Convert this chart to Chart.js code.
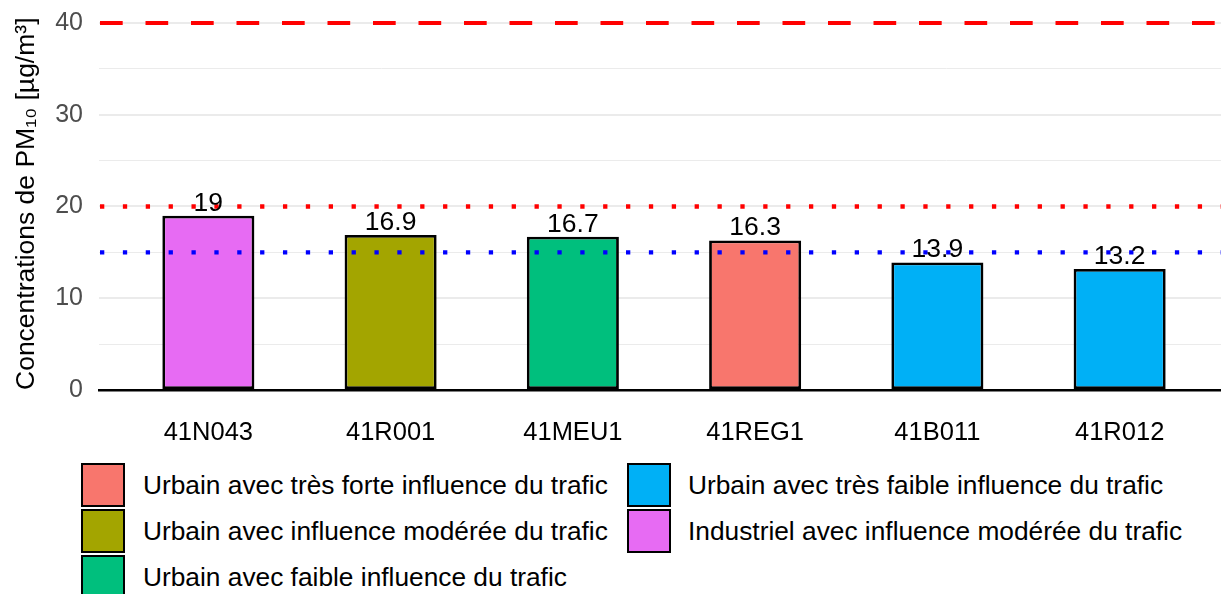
<!DOCTYPE html>
<html>
<head>
<meta charset="utf-8">
<script src="https://cdn.jsdelivr.net/npm/chart.js@4"></script>
<style>
  html, body { margin: 0; padding: 0; background: #fff; overflow: hidden; width: 1221px; height: 594px; }
  #wrap { position: relative; width: 1221px; height: 594px; overflow: hidden; font-family: "Liberation Sans", Arial, sans-serif; }
  #c { position: absolute; left: 0; top: 0; }
  .lg-key { position: absolute; width: 40px; height: 40px; border: 2px solid #000; }
  .lg-txt { position: absolute; font-size: 26.3px; line-height: 44px; color: #000; white-space: nowrap; }
</style>
</head>
<body>
<div id="wrap">
  <canvas id="c" width="1229" height="460"></canvas>
</div>
<script>
// ---- data ----
const stations = ["41N043", "41R001", "41MEU1", "41REG1", "41B011", "41R012"];
const pm10Values = [19, 16.9, 16.7, 16.3, 13.9, 13.2];
const stationTypes = [
  "Industriel avec influence modérée du trafic",
  "Urbain avec influence modérée du trafic",
  "Urbain avec faible influence du trafic",
  "Urbain avec très forte influence du trafic",
  "Urbain avec très faible influence du trafic",
  "Urbain avec très faible influence du trafic"
];
const legendLabels = [
  "Urbain avec très forte influence du trafic",
  "Urbain avec influence modérée du trafic",
  "Urbain avec faible influence du trafic",
  "Urbain avec très faible influence du trafic",
  "Industriel avec influence modérée du trafic"
];
const legendColors = ["#F8766D", "#A3A500", "#00BF7D", "#00B0F6", "#E76BF3"];
const refValues = [40, 20, 15];
const refColors = ["#FF0000", "#FF0000", "#0000FF"];
const refKinds = ["dashed", "dotted", "dotted"];
const yTickValues = [0, 10, 20, 30, 40];

const FONT = '"Liberation Sans", Arial, sans-serif';
const barColors = stationTypes.map(t => legendColors[legendLabels.indexOf(t)]);

const refLinesPlugin = {
  id: 'refLines',
  afterDatasetsDraw(chart) {
    const ctx = chart.ctx, y = chart.scales.y, a = chart.chartArea;
    ctx.save();
    refValues.forEach((v, i) => {
      const py = y.getPixelForValue(v);
      ctx.beginPath();
      ctx.strokeStyle = refColors[i];
      ctx.lineCap = 'butt';
      if (refKinds[i] === 'dashed') { ctx.lineWidth = 4.2; ctx.setLineDash([22.7, 22.8]); }
      else { ctx.lineWidth = 4.3; ctx.setLineDash([4.3, 18.57]); }
      ctx.moveTo(a.left + 1, py);
      ctx.lineTo(a.right, py);
      ctx.stroke();
    });
    ctx.restore();
    // value labels
    const meta = chart.getDatasetMeta(0);
    ctx.save();
    ctx.font = '26.5px ' + FONT;
    ctx.fillStyle = '#000';
    ctx.textAlign = 'center';
    ctx.textBaseline = 'alphabetic';
    meta.data.forEach((bar, i) => {
      ctx.fillText(String(pm10Values[i]), bar.x, bar.y - 5);
    });
    ctx.restore();
  }
};

new Chart(document.getElementById('c'), {
  type: 'bar',
  data: {
    datasets: [{
      data: pm10Values.map((v, i) => ({ x: i, y: v })),
      backgroundColor: barColors,
      borderColor: '#000',
      borderWidth: 2.8,
      borderSkipped: false,
      barPercentage: 0.505,
      categoryPercentage: 1.0
    }]
  },
  options: {
    responsive: false,
    animation: false,
    devicePixelRatio: 1,
    layout: { padding: { left: 0, right: 0, top: 4, bottom: 0 } },
    plugins: { legend: { display: false }, tooltip: { enabled: false } },
    scales: {
      x: {
        type: 'linear',
        offset: false,
        min: -0.6,
        max: 5.6,
        afterFit(s) { s.height = 70; s.paddingLeft = 0; s.paddingRight = 0; },
        grid: { display: false, drawTicks: false, offset: false },
        border: { display: true, color: '#000', width: 2.5 },
        ticks: {
          stepSize: 1,
          includeBounds: false,
          autoSkip: false,
          maxRotation: 0,
          padding: 28,
          color: '#000',
          font: { family: FONT, size: 25.5 },
          callback: v => (Number.isInteger(v) && v >= 0 && v < stations.length) ? stations[v] : ''
        }
      },
      y: {
        min: 0,
        max: 42.07,
        afterFit(s) { s.width = 99; s.paddingTop = 0; s.paddingBottom = 0; },
        grid: {
          color: '#EBEBEB',
          lineWidth: c => (c.tick && yTickValues.includes(c.tick.value)) ? 2 : 1,
          drawTicks: false
        },
        border: { display: false },
        ticks: {
          stepSize: 5,
          includeBounds: false,
          padding: 16,
          color: '#4D4D4D',
          font: { family: FONT, size: 25 },
          callback: v => yTickValues.includes(v) ? String(v) : ''
        },
        title: {
          display: true,
          text: 'Concentrations de PM₁₀ [µg/m³]',
          align: 'start',
          color: '#000',
          font: { family: FONT, size: 26.5 },
          padding: { top: 11, bottom: 0 }
        }
      }
    }
  },
  plugins: [refLinesPlugin]
});

// ---- legend (HTML, column-major 3 + 2) ----
const wrap = document.getElementById('wrap');
const colX = [{ key: 81, txt: 143 }, { key: 627, txt: 688 }];
const rowTop = [463, 509, 555];
legendLabels.forEach((lab, i) => {
  const col = i < 3 ? 0 : 1;
  const row = i < 3 ? i : i - 3;
  const k = document.createElement('div');
  k.className = 'lg-key';
  k.style.left = colX[col].key + 'px';
  k.style.top = rowTop[row] + 'px';
  k.style.background = legendColors[i];
  wrap.appendChild(k);
  const t = document.createElement('div');
  t.className = 'lg-txt';
  t.style.left = colX[col].txt + 'px';
  t.style.top = rowTop[row] + 'px';
  t.textContent = lab;
  wrap.appendChild(t);
});
</script>
</body>
</html>
